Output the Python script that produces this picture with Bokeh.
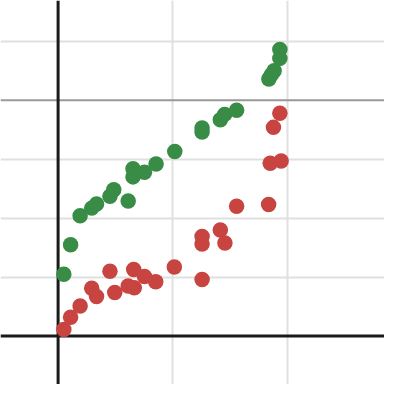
from bokeh.plotting import figure
from bokeh.models import Span, FixedTicker, Range1d
from bokeh.embed import file_html
from bokeh.resources import INLINE

# Data
green_x = [0.050, 0.109, 0.192, 0.293, 0.335, 0.452, 0.485, 0.611, 0.653, 0.653,
           0.753, 0.854, 1.017, 1.255, 1.255, 1.414, 1.452, 1.556, 1.837, 1.858,
           1.883, 1.933, 1.933]
green_y = [1.05, 1.55, 2.04, 2.17, 2.24, 2.37, 2.48, 2.29, 2.84, 2.70,
           2.78, 2.92, 3.13, 3.53, 3.46, 3.67, 3.76, 3.83, 4.36, 4.43,
           4.50, 4.71, 4.86]

red_x = [0.050, 0.109, 0.192, 0.293, 0.335, 0.452, 0.494, 0.611, 0.659, 0.664,
         0.753, 0.851, 1.013, 1.255, 1.255, 1.255, 1.414, 1.454, 1.556, 1.835,
         1.849, 1.877, 1.933, 1.944]
red_y = [0.11, 0.32, 0.51, 0.81, 0.67, 1.10, 0.74, 0.85, 1.13, 0.82,
         1.01, 0.92, 1.17, 0.96, 1.56, 1.69, 1.80, 1.58, 2.20, 2.23,
         2.93, 3.54, 3.78, 2.97]

grid_x = [1, 2]
grid_y = [1, 2, 3, 5]
ref_line_y = 4

p = figure(width=384, height=384, output_backend="svg", toolbar_location=None,
           x_range=Range1d(-0.502, 2.845), y_range=Range1d(-0.822, 5.692),
           min_border=0, background_fill_color="white", border_fill_color="white")
p.outline_line_color = None
p.xaxis.visible = False
p.yaxis.visible = False
p.xgrid.ticker = FixedTicker(ticks=grid_x)
p.ygrid.ticker = FixedTicker(ticks=grid_y)
for g in (p.xgrid, p.ygrid):
    g.grid_line_color = "#e0e0e0"
    g.grid_line_width = 2

p.add_layout(Span(location=ref_line_y, dimension="width", line_color="#999999",
                  line_width=2, level="underlay"))
p.add_layout(Span(location=0, dimension="width", line_color="#1a1a1a",
                  line_width=3, level="underlay"))
p.add_layout(Span(location=0, dimension="height", line_color="#1a1a1a",
                  line_width=3, level="underlay"))

p.scatter(green_x, green_y, size=15.5, color="#388c46", line_color=None)
p.scatter(red_x, red_y, size=15.5, color="#c74440", line_color=None)

open("out.html", "w").write(file_html(p, INLINE))
